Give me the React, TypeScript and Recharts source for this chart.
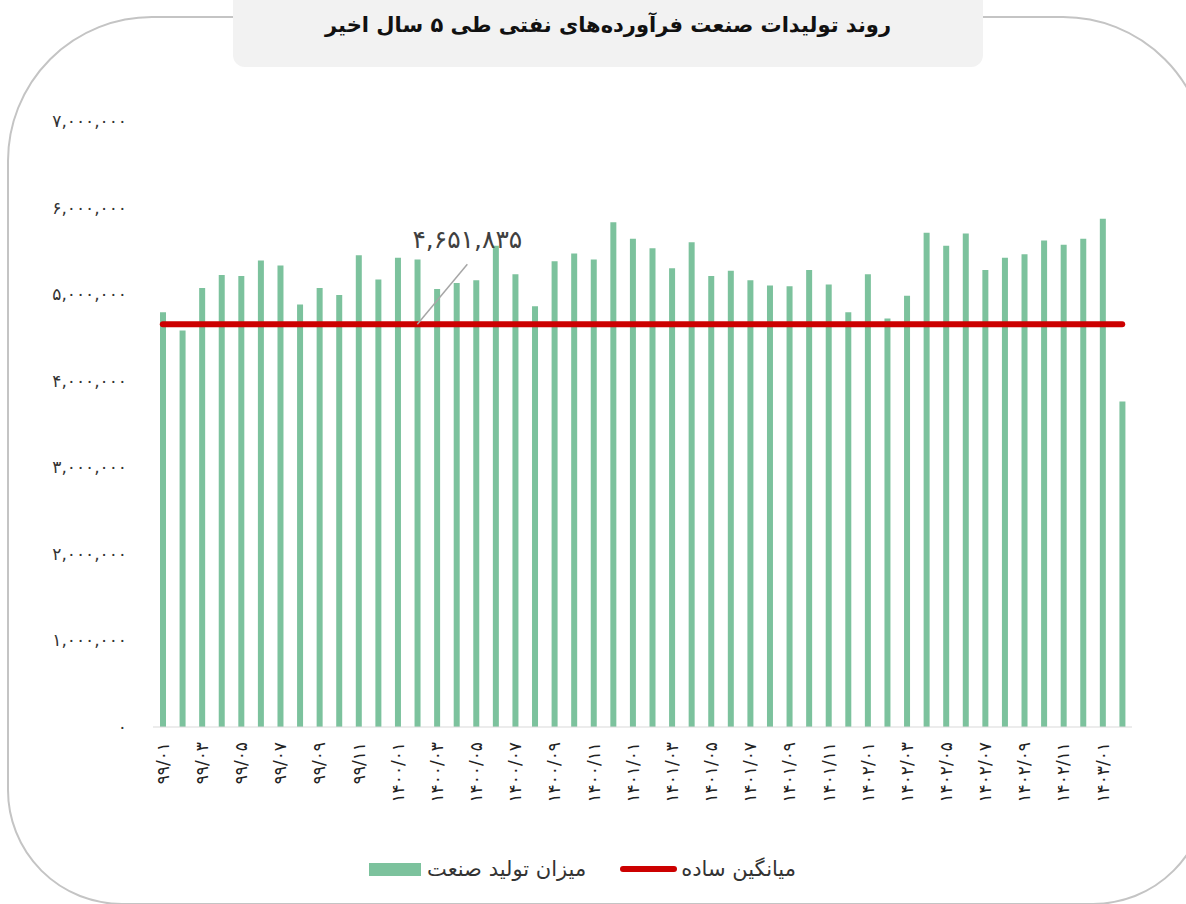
import { ComposedChart, Bar, Line, XAxis, YAxis, Legend } from "recharts";

// Persian month labels (year/month)
const months = [
  "۹۹/۰۱", "۹۹/۰۲", "۹۹/۰۳", "۹۹/۰۴", "۹۹/۰۵", "۹۹/۰۶", "۹۹/۰۷", "۹۹/۰۸", "۹۹/۰۹", "۹۹/۱۰", "۹۹/۱۱", "۹۹/۱۲",
  "۱۴۰۰/۰۱", "۱۴۰۰/۰۲", "۱۴۰۰/۰۳", "۱۴۰۰/۰۴", "۱۴۰۰/۰۵", "۱۴۰۰/۰۶", "۱۴۰۰/۰۷", "۱۴۰۰/۰۸", "۱۴۰۰/۰۹", "۱۴۰۰/۱۰", "۱۴۰۰/۱۱", "۱۴۰۰/۱۲",
  "۱۴۰۱/۰۱", "۱۴۰۱/۰۲", "۱۴۰۱/۰۳", "۱۴۰۱/۰۴", "۱۴۰۱/۰۵", "۱۴۰۱/۰۶", "۱۴۰۱/۰۷", "۱۴۰۱/۰۸", "۱۴۰۱/۰۹", "۱۴۰۱/۱۰", "۱۴۰۱/۱۱", "۱۴۰۱/۱۲",
  "۱۴۰۲/۰۱", "۱۴۰۲/۰۲", "۱۴۰۲/۰۳", "۱۴۰۲/۰۴", "۱۴۰۲/۰۵", "۱۴۰۲/۰۶", "۱۴۰۲/۰۷", "۱۴۰۲/۰۸", "۱۴۰۲/۰۹", "۱۴۰۲/۱۰", "۱۴۰۲/۱۱", "۱۴۰۲/۱۲",
  "۱۴۰۳/۰۱", "۱۴۰۳/۰۲",
];

// monthly production
const production = [
  4790000, 4580000, 5070000, 5220000, 5210000, 5390000, 5330000, 4880000, 5070000, 4990000, 5450000, 5170000,
  5420000, 5400000, 5060000, 5130000, 5160000, 5560000, 5230000, 4860000, 5380000, 5470000, 5400000, 5830000,
  5640000, 5530000, 5300000, 5600000, 5210000, 5270000, 5160000, 5100000, 5090000, 5280000, 5110000, 4790000,
  5230000, 4720000, 4980000, 5710000, 5560000, 5700000, 5280000, 5420000, 5460000, 5620000, 5570000, 5640000,
  5870000, 3760000,
];

// simple average shown as the red line
const averageValue = 4651835;
const averageLabelIndex = 13;

const yTicks = [0, 1000000, 2000000, 3000000, 4000000, 5000000, 6000000, 7000000];

const BAR_NAME = "میزان تولید صنعت";
const LINE_NAME = "میانگین ساده";
const FONT = "'DejaVu Sans', sans-serif";

const persianDigits = "۰۱۲۳۴۵۶۷۸۹";
const toPersian = (n: number) =>
  n
    .toLocaleString("en-US")
    .replace(/\d/g, (d) => persianDigits[Number(d)]);

const chartData = months.map((m, i) => ({
  month: m,
  production: production[i],
  average: averageValue,
}));

function MonthTick({ x, y, payload }: any) {
  return (
    <text
      x={x}
      y={y}
      transform={`rotate(-90, ${x}, ${y})`}
      textAnchor="end"
      dominantBaseline="central"
      fontSize={17}
      fontFamily={FONT}
      fill="#222"
    >
      {payload.value}
    </text>
  );
}

function AverageLabel(props: any) {
  const { x, y, index } = props;
  if (index !== averageLabelIndex) return null;
  return (
    <g>
      <line x1={x} y1={y} x2={x + 50} y2={y - 60} stroke="#a6a6a6" strokeWidth={1.5} />
      <text
        x={x + 50}
        y={y - 85}
        textAnchor="middle"
        dominantBaseline="central"
        fontSize={25}
        fontFamily={FONT}
        fill="#404040"
      >
        {toPersian(averageValue)}
      </text>
    </g>
  );
}

function LegendContent() {
  return (
    <div
      style={{
        height: 30,
        display: "flex",
        justifyContent: "center",
        alignItems: "center",
        fontFamily: FONT,
        fontSize: 21,
        color: "#333",
      }}
    >
      <span style={{ display: "inline-block", width: 52, height: 13, background: "#7cc29d", marginRight: 6 }} />
      <span>{BAR_NAME}</span>
      <span
        style={{
          display: "inline-block",
          width: 57,
          height: 6,
          borderRadius: 3,
          background: "#cc0000",
          marginLeft: 34,
          marginRight: 4,
        }}
      />
      <span>{LINE_NAME}</span>
    </div>
  );
}

export default function App() {
  return (
    <div
      style={{
        position: "absolute",
        left: 0,
        top: 0,
        width: 1186,
        height: 904,
        overflow: "hidden",
        background: "#fff",
      }}
    >
      {/* rounded frame */}
      <div
        style={{
          position: "absolute",
          left: 7,
          top: 16,
          width: 1201,
          height: 889,
          boxSizing: "border-box",
          border: "2px solid #c4c4c4",
          borderRadius: "145px 145px 115px 115px",
        }}
      />
      <div style={{ position: "absolute", left: 0, top: 0 }}>
        <ComposedChart
          width={1186}
          height={904}
          data={chartData}
          margin={{ top: 121, right: 54, left: 33, bottom: 20 }}
        >
          <XAxis
            dataKey="month"
            interval={1}
            tick={<MonthTick />}
            tickLine={false}
            tickMargin={9}
            stroke="#d9d9d9"
            height={127}
          />
          <YAxis
            domain={[0, 7000000]}
            ticks={yTicks}
            width={120}
            axisLine={false}
            tickLine={false}
            tickMargin={20}
            tickFormatter={toPersian}
            tick={{ fontSize: 17, fontFamily: FONT, fill: "#333" }}
          />
          <Legend verticalAlign="bottom" height={30} content={<LegendContent />} />
          <Bar
            dataKey="production"
            name={BAR_NAME}
            fill="#7cc29d"
            barSize={6}
            isAnimationActive={false}
          />
          <Line
            dataKey="average"
            name={LINE_NAME}
            stroke="#cc0000"
            strokeWidth={6}
            strokeLinecap="round"
            dot={false}
            activeDot={false}
            label={<AverageLabel />}
            isAnimationActive={false}
          />
        </ComposedChart>
      </div>
      {/* title box */}
      <div
        dir="rtl"
        style={{
          position: "absolute",
          left: 233,
          top: -12,
          width: 750,
          height: 79,
          borderRadius: 12,
          background: "#f2f2f2",
          fontFamily: FONT,
          fontWeight: "bold",
          fontSize: 21,
          color: "#111",
          textAlign: "center",
          paddingTop: 23,
          boxSizing: "border-box",
          lineHeight: "28px",
        }}
      >
        روند تولیدات صنعت فرآورده‌های نفتی طی ۵ سال اخیر
      </div>
    </div>
  );
}
